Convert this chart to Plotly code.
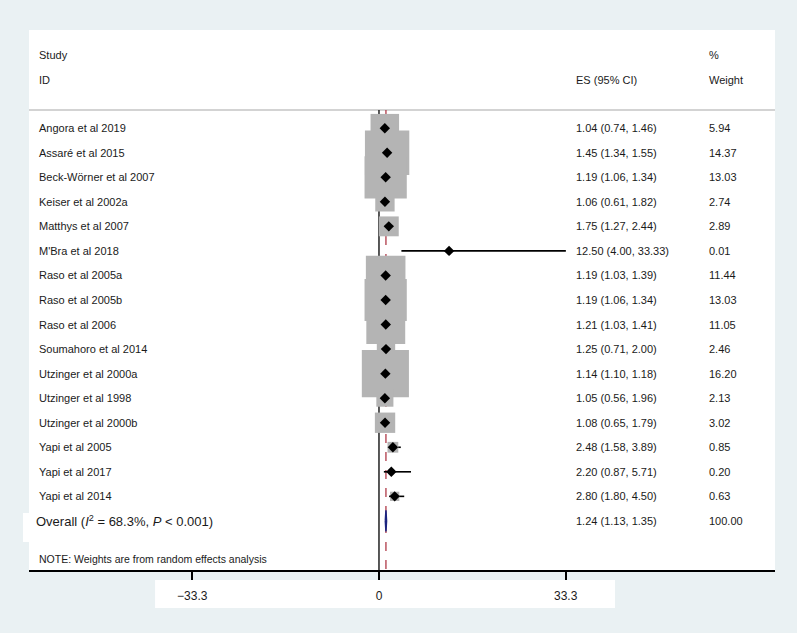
import plotly.graph_objects as go

studies = ["Angora et al 2019", "Assaré et al 2015", "Beck-Wörner et al 2007", "Keiser et al 2002a",
           "Matthys et al 2007", "M'Bra et al 2018", "Raso et al 2005a", "Raso et al 2005b",
           "Raso et al 2006", "Soumahoro et al 2014", "Utzinger et al 2000a", "Utzinger et al 1998",
           "Utzinger et al 2000b", "Yapi et al 2005", "Yapi et al 2017", "Yapi et al 2014"]
es = [1.04, 1.45, 1.19, 1.06, 1.75, 12.50, 1.19, 1.19, 1.21, 1.25, 1.14, 1.05, 1.08, 2.48, 2.20, 2.80]
lo = [0.74, 1.34, 1.06, 0.61, 1.27, 4.00, 1.03, 1.06, 1.03, 0.71, 1.10, 0.56, 0.65, 1.58, 0.87, 1.80]
hi = [1.46, 1.55, 1.34, 1.82, 2.44, 33.33, 1.39, 1.34, 1.41, 2.00, 1.18, 1.96, 1.79, 3.89, 5.71, 4.50]
weight = [5.94, 14.37, 13.03, 2.74, 2.89, 0.01, 11.44, 13.03, 11.05, 2.46, 16.20, 2.13, 3.02, 0.85, 0.20, 0.63]
overall_es, overall_lo, overall_hi, overall_w = 1.24, 1.13, 1.35, 100.00
overall_label = "Overall (<i>I</i><sup>2</sup> = 68.3%, <i>P</i> &lt; 0.001)"
tick_vals = [-33.3, 0, 33.3]
tick_text = ["\u221233.3", "0", "33.3"]

FONT = "Liberation Sans, Arial, sans-serif"
TXT = "#1a1a1a"
rows = list(range(len(studies)))
overall_row = len(studies)

fig = go.Figure()

# CI lines
cx, cy = [], []
for i, (l, h) in enumerate(zip(lo, hi)):
    cx += [l, h, None]
    cy += [i, i, None]
fig.add_trace(go.Scatter(x=cx, y=cy, mode="lines", line=dict(color="black", width=1.6),
                         hoverinfo="skip", showlegend=False))
# weight boxes
fig.add_trace(go.Scatter(x=es, y=rows, mode="markers",
                         marker=dict(symbol="square", color="#b4b4b4", opacity=1,
                                     size=[11.7 * w ** 0.5 for w in weight], line=dict(width=0)),
                         showlegend=False))
# point estimates
fig.add_trace(go.Scatter(x=es, y=rows, mode="markers",
                         marker=dict(symbol="diamond", color="black", size=8, opacity=1, line=dict(width=0)),
                         showlegend=False))
# overall diamond
hh = 0.43
fig.add_trace(go.Scatter(x=[overall_lo, overall_es, overall_hi, overall_es, overall_lo],
                         y=[overall_row, overall_row - hh, overall_row, overall_row + hh, overall_row],
                         mode="lines", fill="toself", fillcolor="#1c2580",
                         line=dict(color="#1c2580", width=1.5), showlegend=False))

shapes = [
    # white box behind tick labels
    dict(type="rect", xref="paper", yref="paper", x0=0.169, x1=0.7855, y0=-0.0185, y1=-0.0704,
         fillcolor="white", line=dict(width=0), layer="below"),
    # white box behind overall label
    dict(type="rect", xref="paper", yref="paper", x0=-0.008, x1=0.3, y0=0.0519, y1=0.1056,
         fillcolor="white", line=dict(width=0), layer="below"),
    # header separator line
    dict(type="line", xref="paper", yref="y", x0=0, x1=1, y0=-0.74, y1=-0.74,
         line=dict(color="#a8a8a8", width=1.2), layer="below"),
    # null line
    dict(type="line", xref="x", yref="y", x0=0, x1=0, y0=-0.74, y1=18,
         line=dict(color="#111111", width=1.4), layer="below"),
    # overall effect dashed line
    dict(type="line", xref="x", yref="y", x0=overall_es, x1=overall_es, y0=-0.74, y1=18,
         line=dict(color="#b03a48", width=1.3, dash="dash"), layer="below"),
]

ann = []
def txt(x, y, s, size=11, xref="paper"):
    ann.append(dict(x=x, y=y, xref=xref, yref="y", text=s, showarrow=False, xanchor="left",
                    yanchor="middle", font=dict(family=FONT, size=size, color=TXT)))

X_STUDY, X_ES, X_W = 0.0105, 0.7305, 0.909
txt(X_STUDY, -2.98, "Study")
txt(X_STUDY, -1.96, "ID")
txt(X_ES, -1.96, "ES (95% CI)")
txt(X_W, -2.98, "%")
txt(X_W, -1.96, "Weight")
for i, s in enumerate(studies):
    txt(X_STUDY, i, s)
    txt(X_ES, i, f"{es[i]:.2f} ({lo[i]:.2f}, {hi[i]:.2f})")
    txt(X_W, i, f"{weight[i]:.2f}")
txt(0.0065, overall_row, overall_label, size=13)
txt(X_ES, overall_row, f"{overall_es:.2f} ({overall_lo:.2f}, {overall_hi:.2f})")
txt(X_W, overall_row, f"{overall_w:.2f}")
txt(X_STUDY, 17.55, "NOTE: Weights are from random effects analysis", size=10.5)

fig.update_layout(
    width=797, height=633, margin=dict(l=29, r=22, t=30, b=63),
    paper_bgcolor="#eaf1f3", plot_bgcolor="white",
    shapes=shapes, annotations=ann, showlegend=False,
    xaxis=dict(range=[-62.42, 70.63], tickvals=tick_vals, ticktext=tick_text,
               showgrid=False, zeroline=False, showline=True, linecolor="black", linewidth=1.5,
               ticks="outside", ticklen=8, tickwidth=1.5, tickcolor="black",
               tickfont=dict(family=FONT, size=12, color=TXT), ticklabelstandoff=6, fixedrange=True),
    yaxis=dict(range=[18, -4], visible=False, fixedrange=True),
)

fig.write_html("out.html")
